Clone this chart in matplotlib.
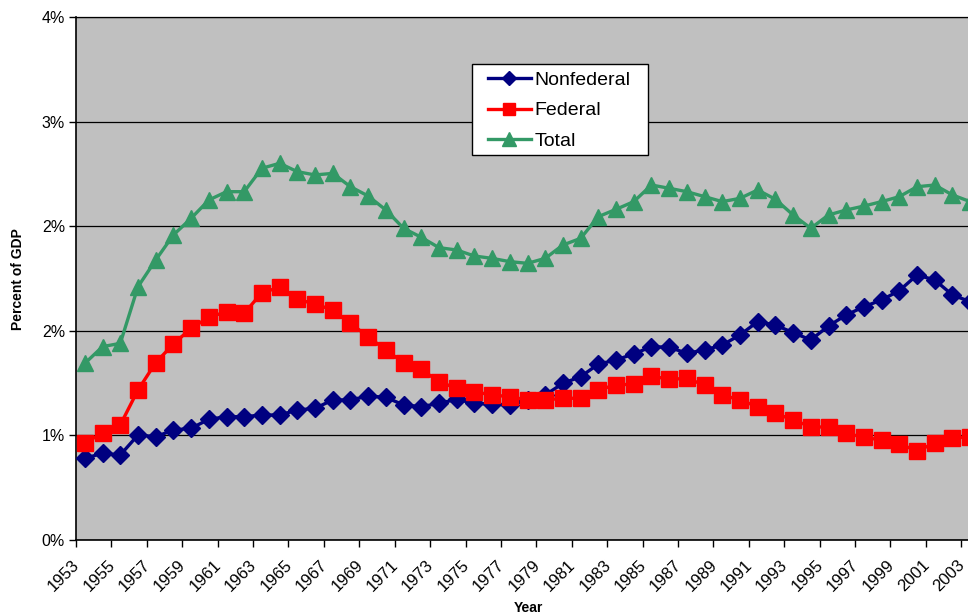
import matplotlib
matplotlib.use("Agg")
import matplotlib.pyplot as plt
from matplotlib.ticker import FuncFormatter
from matplotlib.transforms import ScaledTranslation
from matplotlib.patches import Rectangle
import numpy as np

plt.rcParams['font.family'] = ['Liberation Sans', 'DejaVu Sans']

years = list(range(1953, 2004))

# R&D spending as percent of GDP
nonfederal = [0.625, 0.663, 0.650, 0.803, 0.790, 0.841, 0.854, 0.923, 0.943, 0.943,
              0.956, 0.956, 0.994, 1.007, 1.071, 1.071, 1.101, 1.091, 1.033, 1.020,
              1.045, 1.076, 1.045, 1.040, 1.033, 1.070, 1.109, 1.198, 1.249, 1.345,
              1.377, 1.423, 1.479, 1.474, 1.428, 1.453, 1.491, 1.568, 1.670, 1.644,
              1.586, 1.530, 1.637, 1.721, 1.784, 1.836, 1.907, 2.027, 1.989, 1.874,
              1.823]
federal = [0.739, 0.821, 0.880, 1.147, 1.356, 1.499, 1.619, 1.703, 1.746, 1.734,
           1.892, 1.932, 1.841, 1.805, 1.759, 1.657, 1.555, 1.453, 1.356, 1.305,
           1.211, 1.160, 1.134, 1.109, 1.096, 1.071, 1.071, 1.084, 1.084, 1.150,
           1.185, 1.193, 1.254, 1.229, 1.236, 1.185, 1.109, 1.071, 1.020, 0.969,
           0.918, 0.867, 0.862, 0.816, 0.785, 0.765, 0.734, 0.683, 0.739, 0.778,
           0.790]
total = [1.351, 1.479, 1.504, 1.937, 2.141, 2.333, 2.460, 2.600, 2.664, 2.664,
         2.843, 2.881, 2.817, 2.792, 2.804, 2.702, 2.631, 2.524, 2.384, 2.315,
         2.236, 2.218, 2.172, 2.154, 2.129, 2.116, 2.154, 2.256, 2.307, 2.473,
         2.529, 2.588, 2.715, 2.690, 2.664, 2.626, 2.588, 2.613, 2.677, 2.606,
         2.486, 2.384, 2.486, 2.524, 2.554, 2.588, 2.626, 2.702, 2.715, 2.639,
         2.588]

yticks = [0, 0.8, 1.6, 2.4, 3.2, 4.0]

fig = plt.figure(figsize=(9.68, 6.16), dpi=100)
W, H = 968, 616
x0, x1 = 76, 979
y0, y1 = 540, 17
ax = fig.add_axes([x0 / W, 1 - y0 / H, (x1 - x0) / W, (y0 - y1) / H])
ax.set_facecolor('#C0C0C0')

ax.plot(years, nonfederal, color='#000080', lw=2.4, marker='D', ms=9.5,
        label='Nonfederal', zorder=3)
ax.plot(years, federal, color='#FF0000', lw=2.4, marker='s', ms=11.5,
        label='Federal', zorder=4)
ax.plot(years, total, color='#339966', lw=2.4, marker='^', ms=12,
        label='Total', zorder=3)

ax.set_xlim(1952.5, 2003.5)
ax.set_ylim(0, 4.0)

ax.set_yticks(yticks)
ax.yaxis.set_major_formatter(FuncFormatter(lambda v, p: f"{v:.0f}%"))
ax.yaxis.grid(True, color='black', lw=0.9)
ax.set_axisbelow(True)

# tick marks sit between categories, labels under every other year
ax.set_xticks(np.arange(1952.5, 2004, 2))
ax.set_xticklabels([])
ax.set_xticks(years[::2], minor=True)
ax.set_xticklabels([str(y) for y in years[::2]], minor=True, rotation=45,
                   ha='right', rotation_mode='anchor')
ax.tick_params(axis='x', which='minor', length=0, pad=12.5, labelsize=12)
ax.tick_params(axis='x', which='major', length=5, width=1, direction='out')
ax.tick_params(axis='y', length=5, width=1, labelsize=11.5, pad=3)
shift = ScaledTranslation(-13 / 100, 0, fig.dpi_scale_trans)
for lab in ax.get_xticklabels(minor=True):
    lab.set_transform(lab.get_transform() + shift)

ax.spines['right'].set_visible(False)
ax.spines['top'].set_linewidth(0.9)
ax.spines['left'].set_linewidth(1.2)
ax.spines['bottom'].set_linewidth(1.2)

fig.text(18 / W, 1 - 279 / H, 'Percent of GDP', rotation=90, fontsize=10,
         fontweight='bold', ha='center', va='center')
fig.text(528 / W, 1 - 608 / H, 'Year', fontsize=10, fontweight='bold',
         ha='center', va='center')

# legend box drawn separately so its padding can be set freely
ax.add_patch(Rectangle((472 / W, 1 - 155 / H), 176 / W, 91 / H,
                       transform=fig.transFigure, facecolor='white',
                       edgecolor='black', lw=1, zorder=4.5, clip_on=False))
leg = ax.legend(loc='upper left', bbox_to_anchor=(488 / W, 1 - 71 / H),
                bbox_transform=fig.transFigure, fontsize=14, frameon=False,
                handlelength=2.2, labelspacing=0.68, borderpad=0,
                handletextpad=0.2, markerscale=0.8, borderaxespad=0)

fig.savefig('out.png', dpi=100)
